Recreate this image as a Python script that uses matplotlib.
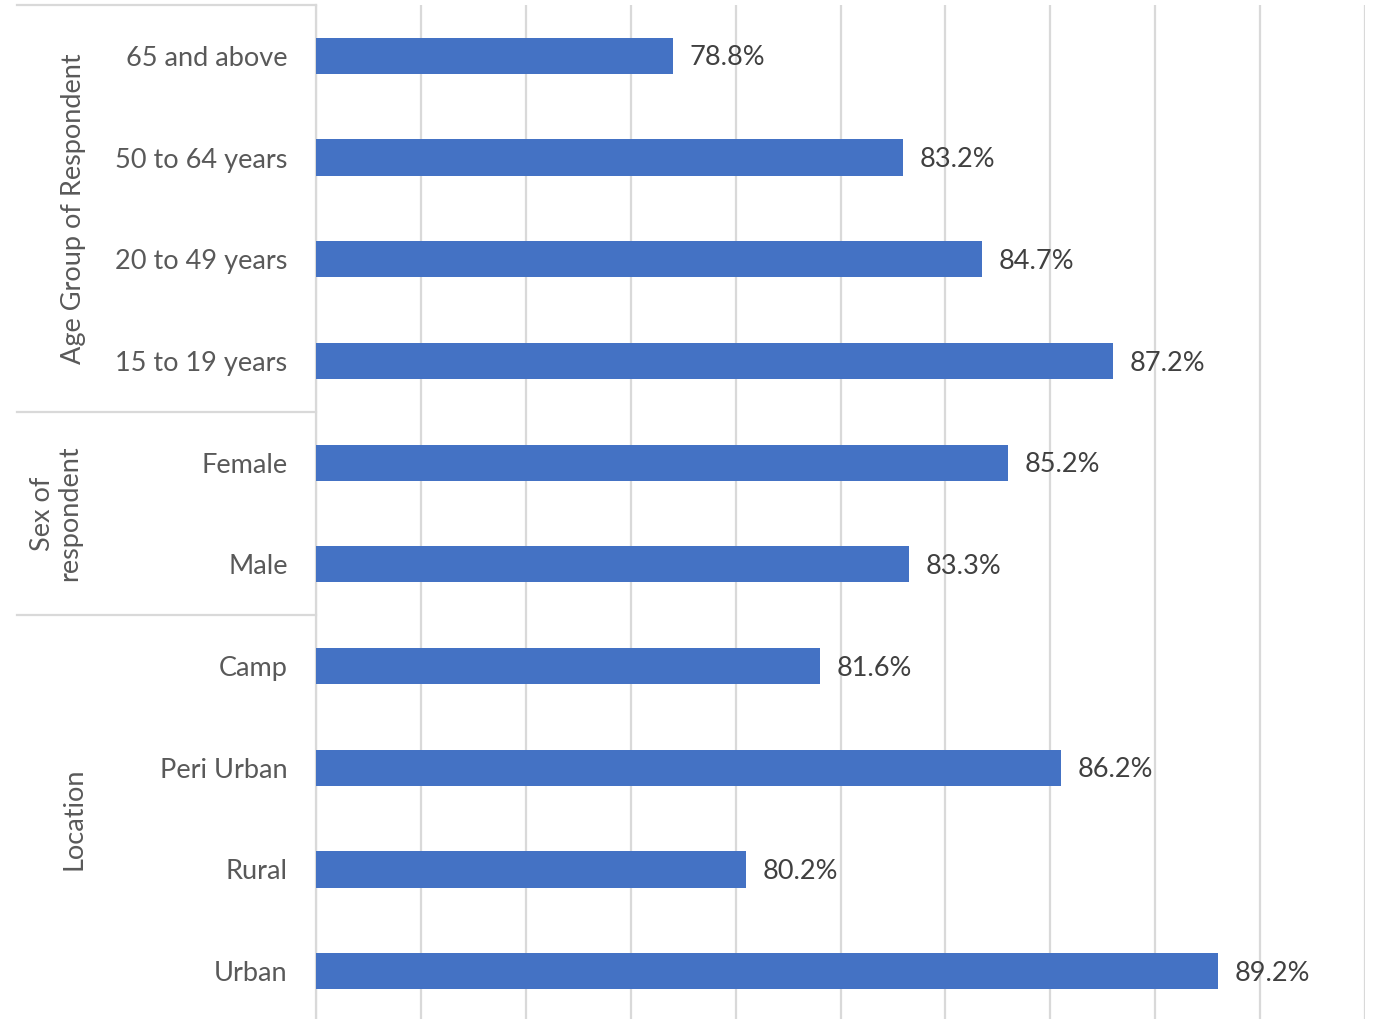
import matplotlib.pyplot as plt
from matplotlib.transforms import blended_transform_factory

plt.rcParams['font.family'] = ['Lato', 'DejaVu Sans']

# Категории сверху вниз и доли (%)
categories = ['65 and above', '50 to 64 years', '20 to 49 years', '15 to 19 years',
              'Female', 'Male',
              'Camp', 'Peri Urban', 'Rural', 'Urban']
values = [78.8, 83.2, 84.7, 87.2, 85.2, 83.3, 81.6, 86.2, 80.2, 89.2]

# Группы: название и число категорий в группе
group_names = ['Age Group of Respondent', 'Sex of\nrespondent', 'Location']
group_sizes = [4, 2, 4]

fig = plt.figure(figsize=(13.75, 10.19), dpi=100)
W, H = 1375, 1019
ax = fig.add_axes([316 / W, (H - 1022) / H, (1365 - 316) / W, (1022 - 5) / H])

y = list(range(len(categories)))
ax.barh(y, values, height=0.355, color='#4472C4', zorder=3)
ax.set_ylim(len(categories) - 0.5, -0.5)
ax.set_xlim(72, 92)
ax.set_xticks(range(72, 93, 2))
ax.tick_params(axis='x', length=0, labelbottom=False)
ax.grid(axis='x', color='#D9D9D9', linewidth=1.6, zorder=0)

ax.set_yticks(y)
ax.set_yticklabels(categories, fontsize=19.5, color='#595959')
ax.tick_params(axis='y', length=0, pad=20.5)

for s in ['top', 'right', 'bottom']:
    ax.spines[s].set_visible(False)
ax.spines['left'].set_color('#D9D9D9')
ax.spines['left'].set_linewidth(1.6)

# Подписи значений справа от столбцов
for yi, v in zip(y, values):
    ax.annotate(f'{v:.1f}%', (v, yi), xytext=(12, -1.5), textcoords='offset points',
                va='center', ha='left', fontsize=19.5, color='#404040')

# Разделители групп и названия групп слева
trans = blended_transform_factory(ax.transAxes, ax.transData)
x0 = (17 - 316) / 1049
start = -0.5
ax.plot([x0, 0], [start, start], transform=trans, color='#D9D9D9',
        linewidth=1.6, clip_on=False)
for name, n in zip(group_names, group_sizes):
    end = start + n
    if end < len(categories) - 0.5:
        ax.plot([x0, 0], [end, end], transform=trans, color='#D9D9D9',
                linewidth=1.6, clip_on=False)
    xc = (74 - 316) / 1049 if '\n' not in name else (56 - 316) / 1049
    ax.text(xc, (start + end) / 2, name, transform=trans, rotation=90,
            ha='center', va='center', fontsize=19.5, color='#595959',
            linespacing=1.15)
    start = end

fig.savefig('out.png', dpi=100)
